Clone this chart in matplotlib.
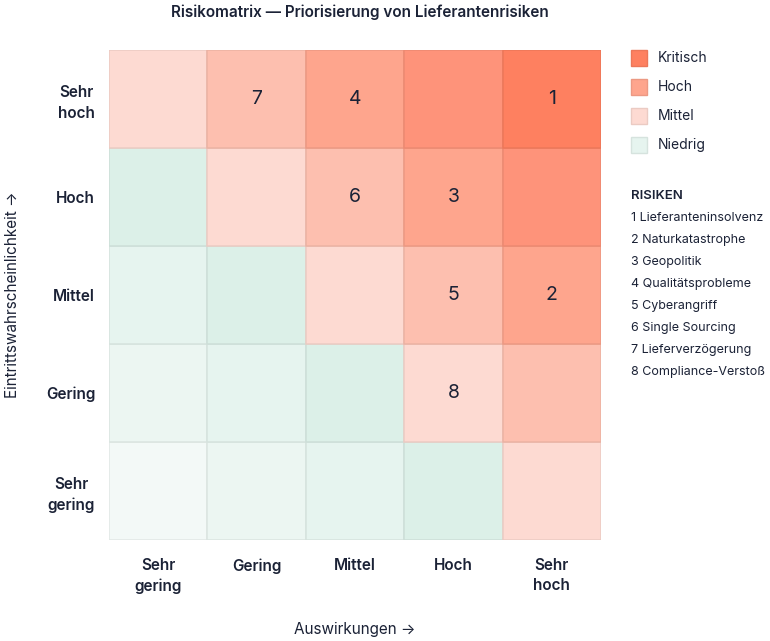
import numpy as np
import matplotlib.pyplot as plt
from matplotlib.patches import Rectangle
from matplotlib.colors import to_rgb

plt.rcParams['font.family'] = ['Inter', 'DejaVu Sans']

impact_labels = ["Sehr\ngering", "Gering", "Mittel", "Hoch", "Sehr\nhoch"]
likelihood_labels = ["Sehr\ngering", "Gering", "Mittel", "Hoch", "Sehr\nhoch"]

risk_ids = [1, 2, 3, 4, 5, 6, 7, 8]
risk_names = ["Lieferanteninsolvenz", "Naturkatastrophe", "Geopolitik",
              "Qualitätsprobleme", "Cyberangriff", "Single Sourcing",
              "Lieferverzögerung", "Compliance-Verstoß"]
risk_impact = [5, 5, 4, 3, 4, 3, 2, 4]
risk_likelihood = [5, 3, 4, 5, 3, 4, 5, 2]

legend_labels = ["Kritisch", "Hoch", "Mittel", "Niedrig"]

# fill colour by impact + likelihood (2..10)
palette = ['#F3F9F7', '#ECF6F2', '#E6F4EF', '#DCF0E8',
           '#FDDAD2', '#FDBFAF', '#FEA58D', '#FE937A', '#FE8060']
legend_colors = ['#FE8060', '#FEA58D', '#FDDAD2', '#E6F4EF']
txt = '#1b2236'


def darker(c, f=0.93):
    r, g, b = to_rgb(c)
    return (r * f, g * f, b * f)


fig = plt.figure(figsize=(7.7, 6.41), dpi=100)
ax = fig.add_axes([0.1416, 0.1576, 0.639, 0.7644])

n = len(impact_labels)
for i in range(n):
    for j in range(n):
        c = palette[i + j]
        ax.add_patch(Rectangle((i, j), 1, 1, facecolor=c,
                               edgecolor=darker(c), linewidth=1.1))

for rid, imp, lik in zip(risk_ids, risk_impact, risk_likelihood):
    ax.text(imp - 0.5, lik - 0.5, str(rid), ha='center', va='center',
            fontsize=14, color=txt)

ax.set_xlim(0, n)
ax.set_ylim(0, n)
ax.set_xticks(np.arange(n) + 0.5)
ax.set_xticklabels(impact_labels, fontsize=11, fontweight='semibold',
                   color=txt, linespacing=1.45)
ax.set_yticks(np.arange(n) + 0.5)
ax.set_yticklabels(likelihood_labels, fontsize=11, fontweight='semibold',
                   color=txt, linespacing=1.45, multialignment='center')
ax.tick_params(axis='x', length=0, pad=13)
ax.tick_params(axis='y', length=0, pad=10)
for s in ax.spines.values():
    s.set_visible(False)

ax.set_xlabel("Auswirkungen \u2192", fontsize=11, color=txt, labelpad=20)
ax.set_ylabel("Eintrittswahrscheinlichkeit \u2192", fontsize=11, color=txt)
ax.yaxis.set_label_coords(-0.181, 0.5)
fig.text(0.467, 0.981, "Risikomatrix \u2014 Priorisierung von Lieferantenrisiken",
         ha='center', va='center', fontsize=11, fontweight='semibold', color=txt)

# legend
for k, (lab, c) in enumerate(zip(legend_labels, legend_colors)):
    yc = 58 + 29 * k
    fig.patches.append(Rectangle((631 / 770, 1 - (yc + 8) / 641), 16 / 770, 16 / 641,
                                 transform=fig.transFigure, facecolor=c,
                                 edgecolor=darker(c), linewidth=1))
    fig.text(658 / 770, 1 - yc / 641, lab, ha='left', va='center',
             fontsize=10, color=txt)

fig.text(631 / 770, 1 - 196 / 641, "RISIKEN", ha='left', va='center',
         fontsize=9.5, fontweight='semibold', color=txt)
for k, (rid, name) in enumerate(zip(risk_ids, risk_names)):
    fig.text(631 / 770, 1 - (218 + 22 * k) / 641, f"{rid} {name}",
             ha='left', va='center', fontsize=9, color=txt)

fig.savefig('out.png', dpi=100, facecolor='white')
